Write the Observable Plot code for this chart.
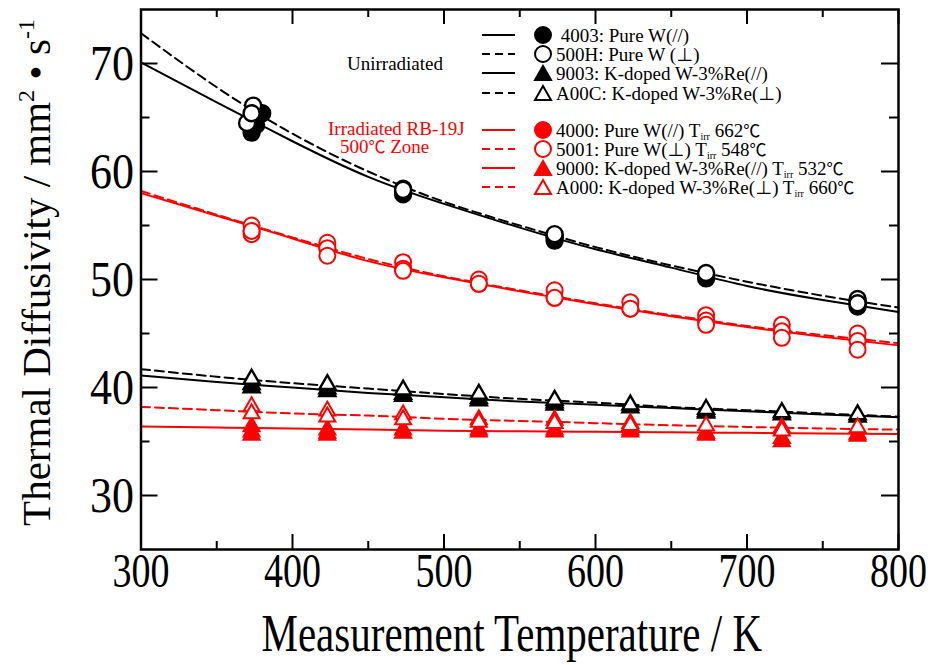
<!DOCTYPE html>
<html><head><meta charset="utf-8">
<script src="https://cdn.jsdelivr.net/npm/d3@7"></script>
<script src="https://cdn.jsdelivr.net/npm/@observablehq/plot@0.6"></script>
<style>
body{margin:0;background:#fff;}
#chart{position:relative;width:933px;height:665px;overflow:hidden;}
#legend{position:absolute;left:0;top:0;pointer-events:none;}
</style></head><body><div id="chart"></div>
<script>
// ---------- ticks ----------
const xTicks = [300, 400, 500, 600, 700, 800];
const xMinor = [350, 450, 550, 650, 750];
const yTicks = [30, 40, 50, 60, 70];
const yMinor = [35, 45, 55, 65];

// ---------- measured points ----------
// Unirradiated
const t4003 = [373, 380, 376, 473, 473, 573, 573, 673, 673, 773, 773];
const d4003 = [63.6, 65.4, 64.3, 57.9, 58.1, 53.6, 53.9, 50.1, 50.3, 47.5, 47.7];
const t500H = [370, 374, 373, 473, 473, 573, 573, 673, 673, 773, 773, 773];
const d500H = [64.5, 66.1, 65.4, 58.4, 58.3, 54.0, 54.2, 50.5, 50.6, 48.0, 48.2, 47.8];
const t9003 = [373, 373, 423, 423, 473, 473, 523, 523, 573, 573, 623, 673, 673, 723, 773];
const d9003 = [40.2, 40.5, 39.85, 40.1, 39.4, 39.6, 39.0, 39.2, 38.6, 38.8, 38.35, 37.85, 38.0, 37.7, 37.5];
const tA00C = [373, 423, 473, 523, 573, 623, 673, 723, 773];
const dA00C = [41.0, 40.5, 40.0, 39.6, 39.05, 38.6, 38.2, 37.9, 37.7];
// Irradiated RB-19J
const t4000 = [373, 423, 473, 523, 573, 623, 673, 723, 773];
const d4000 = [54.5, 52.9, 51.0, 49.6, 48.3, 47.3, 46.2, 45.2, 44.3];
const t5001 = [373, 373, 373, 423, 423, 423, 473, 473, 473, 523, 523, 573, 573, 623, 623, 673, 673, 673, 723, 723, 723, 773, 773, 773];
const d5001 = [55.0, 54.2, 54.5, 53.4, 52.9, 52.2, 51.6, 51.0, 50.8, 50.0, 49.6, 49.0, 48.3, 47.9, 47.3, 46.7, 46.2, 45.8, 45.8, 45.2, 44.6, 45.0, 44.3, 43.5];
const t9000 = [373, 373, 373, 423, 423, 423, 473, 473, 523, 523, 573, 573, 623, 623, 673, 673, 723, 723, 773, 773];
const d9000 = [36.6, 36.1, 35.8, 36.3, 36.0, 35.8, 36.3, 36.0, 36.1, 36.3, 36.1, 36.3, 36.3, 36.1, 35.8, 36.0, 35.2, 35.5, 35.7, 35.9];
const tA000 = [373, 373, 423, 423, 473, 473, 523, 523, 573, 573, 623, 623, 673, 723, 723, 773];
const dA000 = [38.45, 37.8, 38.05, 37.5, 37.7, 37.25, 37.25, 37.0, 37.2, 36.9, 36.9, 36.7, 36.65, 36.5, 36.2, 36.5];

// ---------- fitted curves ----------
const fitT  = [300, 350, 400, 450, 500, 550, 600, 650, 700, 750, 800];
const f4003 = [70.1, 66.4, 62.8, 59.5, 57.0, 54.8, 52.8, 51.1, 49.4, 48.1, 47.0];
const f500H = [72.8, 67.8, 63.5, 60.0, 57.2, 55.0, 53.0, 51.3, 49.8, 48.5, 47.4];
const f9003 = [41.1, 40.5, 40.0, 39.5, 39.1, 38.7, 38.4, 38.1, 37.8, 37.5, 37.25];
const fA00C = [41.7, 41.0, 40.4, 39.9, 39.4, 38.95, 38.6, 38.2, 37.9, 37.6, 37.3];
const f4000 = [58.0, 55.9, 53.8, 51.7, 50.2, 48.9, 47.7, 46.6, 45.6, 44.7, 43.9];
const f5001 = [58.2, 56.0, 53.9, 51.9, 50.3, 49.0, 47.8, 46.7, 45.7, 44.85, 44.1];
const f9000 = [36.4, 36.3, 36.2, 36.1, 36.0, 35.95, 35.9, 35.85, 35.8, 35.75, 35.7];
const fA000 = [38.2, 37.9, 37.6, 37.4, 37.1, 36.9, 36.7, 36.5, 36.35, 36.2, 36.1];

// ---------- text ----------
const xTitle = "Measurement Temperature / K";
const yTitle = "Thermal Diffusivity / mm2 • s-1";
const legendLabels = [
  ["\u00a04003: Pure W(//)", ""],
  ["500H: Pure W (⊥)", ""],
  ["9003: K-doped W-3%Re(//)", ""],
  ["A00C: K-doped W-3%Re(⊥)", ""],
  ["4000: Pure W(//) T", "662℃"],
  ["5001: Pure W(⊥) T", "548℃"],
  ["9000: K-doped W-3%Re(//) T", "532℃"],
  ["A000: K-doped W-3%Re(⊥) T", "660℃"]
];
const legendColor = ["black","black","black","black","red","red","red","red"];
const legendShape = ["circle","circle","triangle","triangle","circle","circle","triangle","triangle"];
const legendFilled = [true,false,true,false,true,false,true,false];
const legendDashed = [false,true,false,true,false,true,false,true];

// ---------- helpers ----------
const pts = (T, D) => T.map((t, i) => ({T: t, D: D[i]}));
const tri = {
  draw(ctx, size) {
    const r = Math.sqrt(size / Math.PI);
    const s = 2 * r, h = s * Math.sqrt(3) / 2;
    ctx.moveTo(0, -h / 2);
    ctx.lineTo(s / 2, h / 2);
    ctx.lineTo(-s / 2, h / 2);
    ctx.closePath();
  }
};
const DASH = "9,5";
const curve = (f, color, dashed) => Plot.line(pts(fitT, f), {x: "T", y: "D", curve: "natural", stroke: color, strokeWidth: 2, strokeDasharray: dashed ? DASH : null});
const dots = (T, D, color, symbol, filled) => Plot.dot(pts(T, D), {
  x: "T", y: "D", r: 8, symbol,
  fill: filled ? color : "white", stroke: color, strokeWidth: color === "black" ? 2.4 : 2
});

const W = 933, H = 665, ML = 140.5, MR = 35, MT = 9, MB = 116;
const IW = W - ML - MR, IH = H - MT - MB;
const serif = "'Liberation Serif', 'Times New Roman', serif";
const cjk = "'Noto Sans CJK JP', 'Liberation Serif', serif";

const plot = Plot.plot({
  width: W, height: H,
  marginLeft: ML, marginRight: MR, marginTop: MT, marginBottom: MB,
  x: {domain: [300, 800], axis: null},
  y: {domain: [25, 75], axis: null},
  style: {fontFamily: serif, background: "white", color: "black", overflow: "visible"},
  marks: [
    // inward ticks on all four sides
    Plot.ruleX(xTicks, {x: d => d, insetTop: IH - 15, stroke: "black", strokeWidth: 2}),
    Plot.ruleX(xTicks, {x: d => d, insetBottom: IH - 15, stroke: "black", strokeWidth: 2}),
    Plot.ruleX(xMinor, {x: d => d, insetTop: IH - 8, stroke: "black", strokeWidth: 2}),
    Plot.ruleX(xMinor, {x: d => d, insetBottom: IH - 8, stroke: "black", strokeWidth: 2}),
    Plot.ruleY(yTicks, {y: d => d, insetRight: IW - 17, stroke: "black", strokeWidth: 2}),
    Plot.ruleY(yTicks, {y: d => d, insetLeft: IW - 17, stroke: "black", strokeWidth: 2}),
    Plot.ruleY(yMinor, {y: d => d, insetRight: IW - 9, stroke: "black", strokeWidth: 2}),
    Plot.ruleY(yMinor, {y: d => d, insetLeft: IW - 9, stroke: "black", strokeWidth: 2}),
    // fitted curves
    curve(f4003, "black", false),
    curve(f500H, "black", true),
    curve(f9003, "black", false),
    curve(fA00C, "black", true),
    curve(f4000, "red", false),
    curve(f5001, "red", true),
    curve(f9000, "red", false),
    curve(fA000, "red", true),
    // points
    dots(t4003, d4003, "black", "circle", true),
    dots(t500H, d500H, "black", "circle", false),
    dots(t4000, d4000, "red", "circle", true),
    dots(t5001, d5001, "red", "circle", false),
    dots(t9003, d9003, "black", tri, true),
    dots(tA00C, dA00C, "black", tri, false),
    dots(t9000, d9000, "red", tri, true),
    dots(tA000, dA000, "red", tri, false),
    Plot.frame({stroke: "black", strokeWidth: 2.5}),
    // tick labels and titles
    Plot.text(xTicks, {x: d => d, text: d => String(d), frameAnchor: "bottom", dy: 37, fontSize: 38, className: "xtl"}),
    Plot.text(yTicks, {y: d => d, text: d => String(d), frameAnchor: "left", textAnchor: "end", dx: -7, fontSize: 44, className: "ytl"}),
    Plot.text([xTitle], {frameAnchor: "bottom", dx: -8, dy: 101, fontSize: 41, className: "xtitle"}),
    Plot.text([yTitle], {frameAnchor: "left", textAnchor: "middle", rotate: -90, dx: -104, dy: -7, fontSize: 41, className: "ytitle"})
  ]
});

const chart = document.getElementById("chart");
chart.appendChild(plot);

// vertical stretch of axis texts (the reference font is tall/narrow)
function stretch(cls, k) {
  plot.querySelectorAll("." + cls + " text").forEach(t => {
    const tr = t.getAttribute("transform");
    if (tr) t.setAttribute("transform", tr + ` scale(1,${k})`);
    else {
      const x = +t.getAttribute("x") || 0, y = +t.getAttribute("y") || 0;
      t.setAttribute("transform", `translate(${x},${y}) scale(1,${k})`);
      t.setAttribute("x", 0); t.setAttribute("y", 0);
    }
  });
}
stretch("xtl", 1.3);
stretch("ytl", 1.15);
stretch("xtitle", 1.3);

// superscripts in the y title
plot.querySelectorAll(".ytitle text").forEach(t => {
  const s = d3.select(t);
  s.text(null);
  s.append("tspan").text("Thermal Diffusivity / mm");
  s.append("tspan").attr("font-size", "24").attr("dy", "-16").text("2");
  s.append("tspan").attr("dy", "16").text(" • s");
  s.append("tspan").attr("font-size", "24").attr("dy", "-16").text("-1");
});

// text with full-width ⊥ and ℃ in a CJK face
function richText(sel, str) {
  str.split(/([⊥℃])/).forEach(part => {
    if (!part) return;
    const ts = sel.append("tspan").text(part);
    if (part === "⊥" || part === "℃") ts.style("font-family", cjk).attr("font-size", 17);
  });
}

// ---------- legend & annotations (overlay) ----------
const lg = d3.select(chart).append("svg").attr("id", "legend")
  .attr("width", W).attr("height", H)
  .style("font-family", serif);
const rowY = [35, 54, 73, 93, 130, 149, 168, 187];
legendLabels.forEach((lab, i) => {
  const y = rowY[i], c = legendColor[i];
  lg.append("line").attr("x1", 482).attr("x2", 515).attr("y1", y).attr("y2", y)
    .attr("stroke", c).attr("stroke-width", 2)
    .attr("stroke-dasharray", legendDashed[i] ? "8,5" : null);
  const sym = legendShape[i] === "circle" ? d3.symbolCircle : tri;
  lg.append("path").attr("d", d3.symbol(sym, Math.PI * 64)())
    .attr("transform", `translate(543,${y})`)
    .attr("fill", legendFilled[i] ? c : "white").attr("stroke", c).attr("stroke-width", 2);
  const tx = lg.append("text").attr("x", 556).attr("y", y + 6.5).attr("font-size", 19).attr("fill", "black");
  richText(tx, lab[0]);
  if (lab[1]) {
    tx.append("tspan").attr("font-size", 10).attr("dy", 3).text("irr");
    tx.append("tspan").attr("dy", -3).text(" ");
    richText(tx, lab[1]);
  }
});
lg.append("text").attr("x", 347).attr("y", 69.5).attr("font-size", 19).attr("fill", "black").text("Unirradiated");
lg.append("text").attr("x", 328).attr("y", 134.5).attr("font-size", 19).attr("fill", "red").text("Irradiated RB-19J");
richText(lg.append("text").attr("x", 340).attr("y", 152.5).attr("font-size", 19).attr("fill", "red"), "500℃ Zone");
</script></body></html>
